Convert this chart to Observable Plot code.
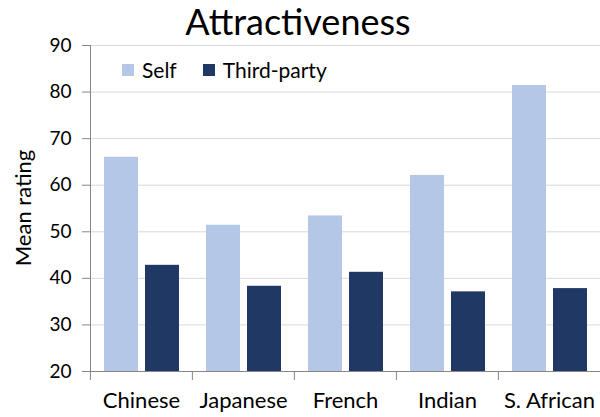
<!DOCTYPE html>
<html>
<head>
<meta charset="utf-8">
<script src="https://cdn.jsdelivr.net/npm/d3@7"></script>
<script src="https://cdn.jsdelivr.net/npm/@observablehq/plot@0.6"></script>
<style>
  html, body { margin: 0; padding: 0; background: #fff; }
  #wrap { position: relative; width: 600px; height: 417px; font-family: Lato, "Open Sans", sans-serif; }
  #chart { position: absolute; left: 0; top: 0; }
  #title { position: absolute; left: 0; top: 0; width: 596px; height: 42px; line-height: 42px; text-align: center; font-size: 36px; color: #000; }
  #ylabel { position: absolute; left: 22px; top: 208px; transform: translate(-50%, -50%) rotate(-90deg); font-size: 22px; color: #000; white-space: nowrap; }
  #legend { position: absolute; left: 122px; top: 57px; display: flex; font-size: 21px; color: #000; }
  #legend .item { display: flex; align-items: center; margin-right: 26px; }
  #legend .sw { width: 12px; height: 12px; margin-right: 8px; }
</style>
</head>
<body>
<div id="wrap">
  <div id="chart"></div>
  <div id="title">Attractiveness</div>
  <div id="ylabel">Mean rating</div>
  <div id="legend"></div>
</div>
<script>
const categories = ["Chinese", "Japanese", "French", "Indian", "S. African"];
const seriesNames = ["Self", "Third-party"];
const selfValues = [66.0, 51.4, 53.4, 62.1, 81.4];
const thirdPartyValues = [42.8, 38.3, 41.3, 37.1, 37.8];
const seriesColors = ["#b4c7e7", "#203864"];
const yTicks = [20, 30, 40, 50, 60, 70, 80, 90];

const data = [];
categories.forEach((c, i) => {
  data.push({category: c, series: seriesNames[0], value: selfValues[i]});
  data.push({category: c, series: seriesNames[1], value: thirdPartyValues[i]});
});

const W = 600, H = 417, ML = 89, MR = 0;
const facetW = (W - ML - MR) / categories.length;

const chart = Plot.plot({
  width: W,
  height: H,
  marginLeft: ML,
  marginRight: MR,
  marginTop: 45,
  marginBottom: 46,
  style: {fontFamily: "Lato, 'Open Sans', sans-serif", fontSize: "19px", color: "#000", background: "#fff"},
  fx: {domain: categories, padding: 0, label: null},
  x: {domain: seriesNames, paddingInner: 0.173, paddingOuter: 0.307, axis: null},
  y: {domain: [20, 90], label: null},
  color: {domain: seriesNames, range: seriesColors},
  marks: [
    Plot.gridY(yTicks.filter(d => d > 20), {stroke: "#d9d9d9", strokeOpacity: 1, strokeWidth: 1}),
    Plot.barY(data, {fx: "category", x: "series", y1: 20, y2: "value", fill: "series"}),
    Plot.ruleY([20], {stroke: "#868686", strokeWidth: 1}),
    Plot.frame({anchor: "left", stroke: "#868686", facetAnchor: "left"}),
    Plot.axisY(yTicks, {tickSize: 8, tickPadding: 11, stroke: "#868686", fontSize: 19, label: null}),
    Plot.axisFx({anchor: "bottom", tickSize: 0, tickPadding: 21, label: null, fontSize: 22}),
    Plot.axisFx({anchor: "bottom", tickSize: 9, tickFormat: () => "", label: null, dx: -facetW / 2, stroke: "#868686"})
  ]
});
document.getElementById("chart").appendChild(chart);

const legend = document.getElementById("legend");
seriesNames.forEach((name, i) => {
  const item = document.createElement("div");
  item.className = "item";
  const sw = document.createElement("div");
  sw.className = "sw";
  sw.style.background = seriesColors[i];
  const t = document.createElement("span");
  t.textContent = name;
  item.appendChild(sw);
  item.appendChild(t);
  legend.appendChild(item);
});
</script>
</body>
</html>
